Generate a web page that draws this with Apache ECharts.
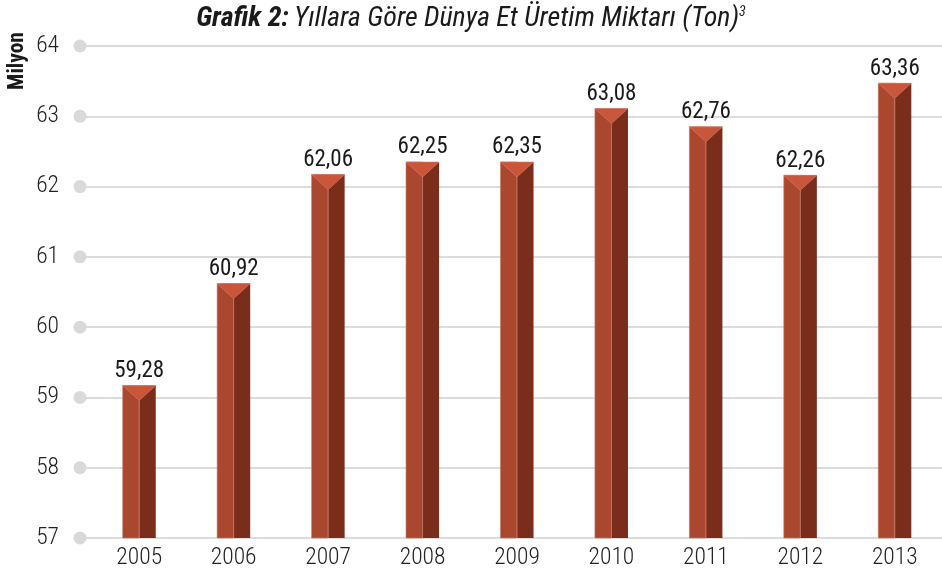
<!DOCTYPE html>
<html>
<head>
<meta charset="utf-8">
<script src="https://cdn.jsdelivr.net/npm/echarts@6/dist/echarts.min.js"></script>
<style>
  html, body { margin: 0; padding: 0; background: #fff; }
  #main { width: 942px; height: 576px; }
</style>
</head>
<body>
<div id="main"></div>
<script>
// yıllar ve değerler
var years = ["2005", "2006", "2007", "2008", "2009", "2010", "2011", "2012", "2013"];
// bar heights as drawn (milyon ton)
var barValues = [59.17, 60.62, 62.17, 62.35, 62.35, 63.11, 62.85, 62.16, 63.47];
// printed labels
var barLabels = ["59,28", "60,92", "62,06", "62,25", "62,35", "63,08", "62,76", "62,26", "63,36"];
var yTicks = [57, 58, 59, 60, 61, 62, 63, 64];

var FONT = '"Roboto Condensed", "DejaVu Sans Condensed", sans-serif';
var myChart = echarts.init(document.getElementById("main"));

var option = {
  animation: false,
  title: {
    left: "center",
    top: 0,
    text: "{b|Grafik 2:} {i|Yıllara Göre Dünya Et Üretim Miktarı (Ton)}{s|3}",
    textStyle: {
      fontWeight: "normal",
      rich: {
        b: { fontFamily: FONT, fontSize: 28, fontWeight: "bold", fontStyle: "italic", color: "#1a1a1a" },
        i: { fontFamily: FONT, fontSize: 28, fontWeight: "normal", fontStyle: "italic", color: "#1a1a1a" },
        s: { fontFamily: FONT, fontSize: 14, fontWeight: "normal", fontStyle: "italic", color: "#1a1a1a", verticalAlign: "top", padding: [0, 0, 14, 0] }
      }
    }
  },
  graphic: [
    {
      type: "text",
      x: 18,
      y: 61,
      rotation: Math.PI / 2,
      style: {
        text: "Milyon",
        fontFamily: FONT,
        fontSize: 21.5,
        fontWeight: "bold",
        fill: "#1a1a1a",
        align: "center",
        verticalAlign: "middle"
      }
    }
  ],
  grid: { left: 92, right: -2, top: 46, bottom: 38 },
  xAxis: {
    type: "category",
    data: years,
    axisLine: { lineStyle: { color: "#dcdcdc", width: 2 } },
    axisTick: { show: false },
    axisLabel: { fontFamily: FONT, fontSize: 23.5, fontWeight: 300, color: "#222", margin: 8 }
  },
  yAxis: {
    type: "value",
    min: 57,
    max: 64,
    interval: 1,
    axisLine: { show: false },
    axisTick: { show: true, length: 7, lineStyle: { color: "#dcdcdc", width: 2 } },
    splitLine: { lineStyle: { color: "#dcdcdc", width: 2 } },
    axisLabel: { fontFamily: FONT, fontSize: 23.5, fontWeight: 300, color: "#222", margin: 33 }
  },
  series: [
    {
      // eksen noktaları
      type: "custom",
      clip: false,
      silent: true,
      data: yTicks.map(function (v) { return [0, v]; }),
      renderItem: function (params, api) {
        var p = api.coord([0, api.value(1)]);
        var left = p[0] - api.size([1, 0])[0] / 2;
        return {
          type: "circle",
          shape: { cx: left - 12, cy: p[1], r: 6.5 },
          style: { fill: "#d9d9db" }
        };
      }
    },
    {
      // 3B çubuklar
      type: "custom",
      clip: false,
      data: barValues.map(function (v, i) { return [i, v, i]; }),
      renderItem: function (params, api) {
        var top = api.coord([api.value(0), api.value(1)]);
        var base = api.coord([api.value(0), 57]);
        var w = api.size([1, 0])[0] * 0.35;
        var cx = top[0];
        var h = base[1] - top[1];
        var cap = 15;
        return {
          type: "group",
          children: [
            {
              type: "rect",
              shape: { x: cx - w / 2, y: top[1], width: w / 2, height: h },
              style: { fill: "#a9472f", stroke: "#c97a66", lineWidth: 0.6 }
            },
            {
              type: "rect",
              shape: { x: cx, y: top[1], width: w / 2, height: h },
              style: { fill: "#7a2d1b" }
            },
            {
              type: "line",
              shape: { x1: cx, y1: top[1] + cap, x2: cx, y2: base[1] },
              style: { stroke: "#c0705c", lineWidth: 1 }
            },
            {
              type: "polygon",
              shape: { points: [[cx - w / 2, top[1]], [cx + w / 2, top[1]], [cx, top[1] + cap]] },
              style: { fill: "#c9553b", stroke: "#d9826b", lineWidth: 0.6 }
            },
            {
              type: "text",
              x: cx,
              y: top[1] - 3,
              style: {
                text: barLabels[api.value(2)],
                fontFamily: FONT,
                fontSize: 23,
                fill: "#1a1a1a",
                align: "center",
                verticalAlign: "bottom"
              }
            }
          ]
        };
      }
    }
  ]
};

myChart.setOption(option);
</script>
</body>
</html>
